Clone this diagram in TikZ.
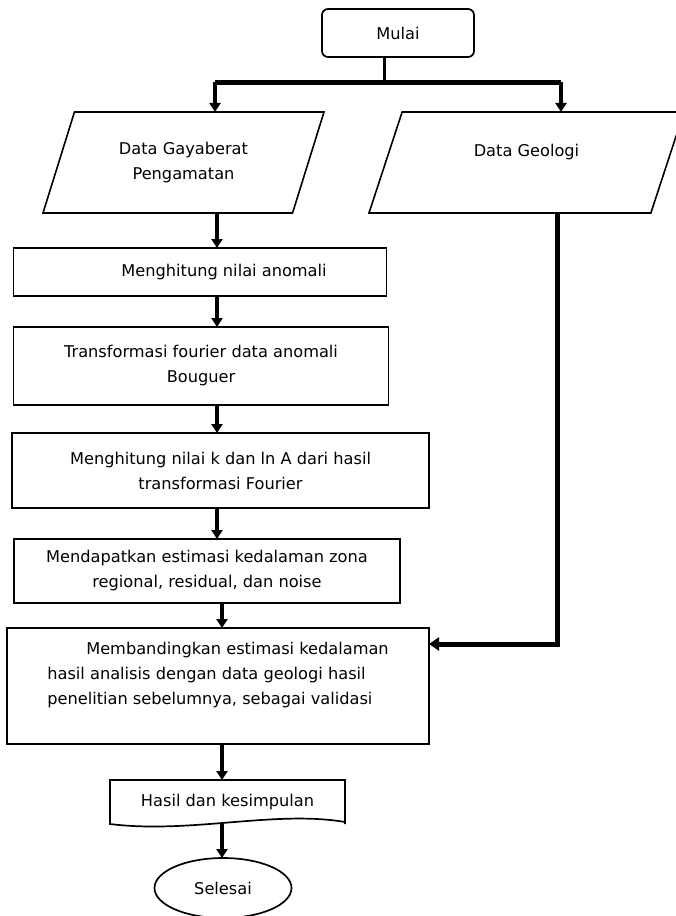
\documentclass[tikz,border=0pt]{standalone}
\usepackage{fontspec}
\setmainfont{DejaVu Sans}
\usetikzlibrary{positioning, shapes.geometric, arrows.meta}

\begin{document}
\begin{tikzpicture}[x=1pt, y=-1pt,
    font=\fontsize{16.2}{25}\selectfont,
    every node/.style={outer sep=0pt},
    proses/.style={draw, line width=1.7pt, align=center, inner sep=2pt},
    datain/.style={draw, line width=1.6pt, trapezium, trapezium stretches body, align=center, minimum height=101pt},
    alir/.style={line width=4pt, -{Triangle[length=9pt, width=11pt]}},
    garis/.style={line width=5pt}]
  \useasboundingbox (0,0) rectangle (675,916);

  \node [draw, line width=1.7pt, rounded corners=6pt, minimum width=152pt, minimum height=48pt] (mulai) at (398,33) {Mulai};
  \node [datain, trapezium left angle=56.4, trapezium right angle=123.6, minimum width=281pt] (gaya) at (183.5,162.5) {Data Gayaberat\\Pengamatan};
  \node [datain, trapezium left angle=53, trapezium right angle=127, minimum width=315pt] (geologi) at (526.5,162.5) {Data Geologi\\\mbox{}};
  \node [proses, minimum width=373pt, minimum height=48pt, below=35pt of gaya, xshift=16.5pt] (anomali) {\hspace*{48pt}Menghitung nilai anomali};
  \node [proses, minimum width=375pt, minimum height=78pt, below=31pt of anomali, xshift=1pt] (fourier) {Transformasi fourier data anomali\\Bouguer};
  \node [proses, minimum width=417pt, minimum height=75pt, below=28pt of fourier, xshift=19.5pt] (lna) {Menghitung nilai k dan ln A dari hasil\\transformasi Fourier};
  \node [proses, minimum width=386pt, minimum height=64pt, below=31pt of lna, xshift=-13.5pt] (zona) {Mendapatkan estimasi kedalaman zona\\regional, residual, dan noise};
  \node [proses, align=left, minimum width=422pt, minimum height=116pt, below=25pt of zona, xshift=11pt] (banding) {\hspace*{39pt}Membandingkan estimasi kedalaman\\hasil analisis dengan data geologi hasil\\penelitian sebelumnya, sebagai validasi\\\mbox{}};
  \node [minimum width=235pt, minimum height=44pt, below=36pt of banding, xshift=9.5pt] (hasil) {Hasil dan kesimpulan};
  \node [draw, line width=1.7pt, ellipse, minimum width=137pt, minimum height=60pt, below=34pt of hasil, xshift=-4.5pt] (selesai) {Selesai};

  \draw [line width=1.7pt] (hasil.south east) -- (hasil.north east) -- (hasil.north west) -- (hasil.south west)
    .. controls +(80,10) and +(-70,-12) .. ([yshift=2pt]hasil.south east);

  \coordinate (cabang) at (384,82);
  \coordinate (kiri) at (215,82);
  \coordinate (kanan) at (561,82);
  \coordinate (jalur) at (217,0);
  \coordinate (jalur2) at (222,0);
  \coordinate (belok) at (557,644);

  \draw [line width=3pt] (mulai.south -| cabang) -- (cabang);
  \draw [garis] (kiri) -- (kanan);
  \draw [alir] (kiri) -- (gaya.north -| kiri);
  \draw [alir] (kanan) -- (geologi.north -| kanan);
  \draw [alir] (gaya.south -| jalur) -- (anomali.north -| jalur);
  \draw [alir] (anomali.south -| jalur) -- (fourier.north -| jalur);
  \draw [alir] (fourier.south -| jalur) -- (lna.north -| jalur);
  \draw [alir] (lna.south -| jalur) -- (zona.north -| jalur);
  \draw [alir] (zona.south -| jalur2) -- (banding.north -| jalur2);
  \draw [alir] (banding.south -| jalur2) -- (hasil.north -| jalur2);
  \draw [alir] (hasil.south -| jalur2) -- (selesai.north -| jalur2);
  \draw [garis, -{Triangle[length=10pt, width=13pt]}] (geologi.south -| belok) -- (belok) -- (banding.east |- belok);
\end{tikzpicture}
\end{document}
